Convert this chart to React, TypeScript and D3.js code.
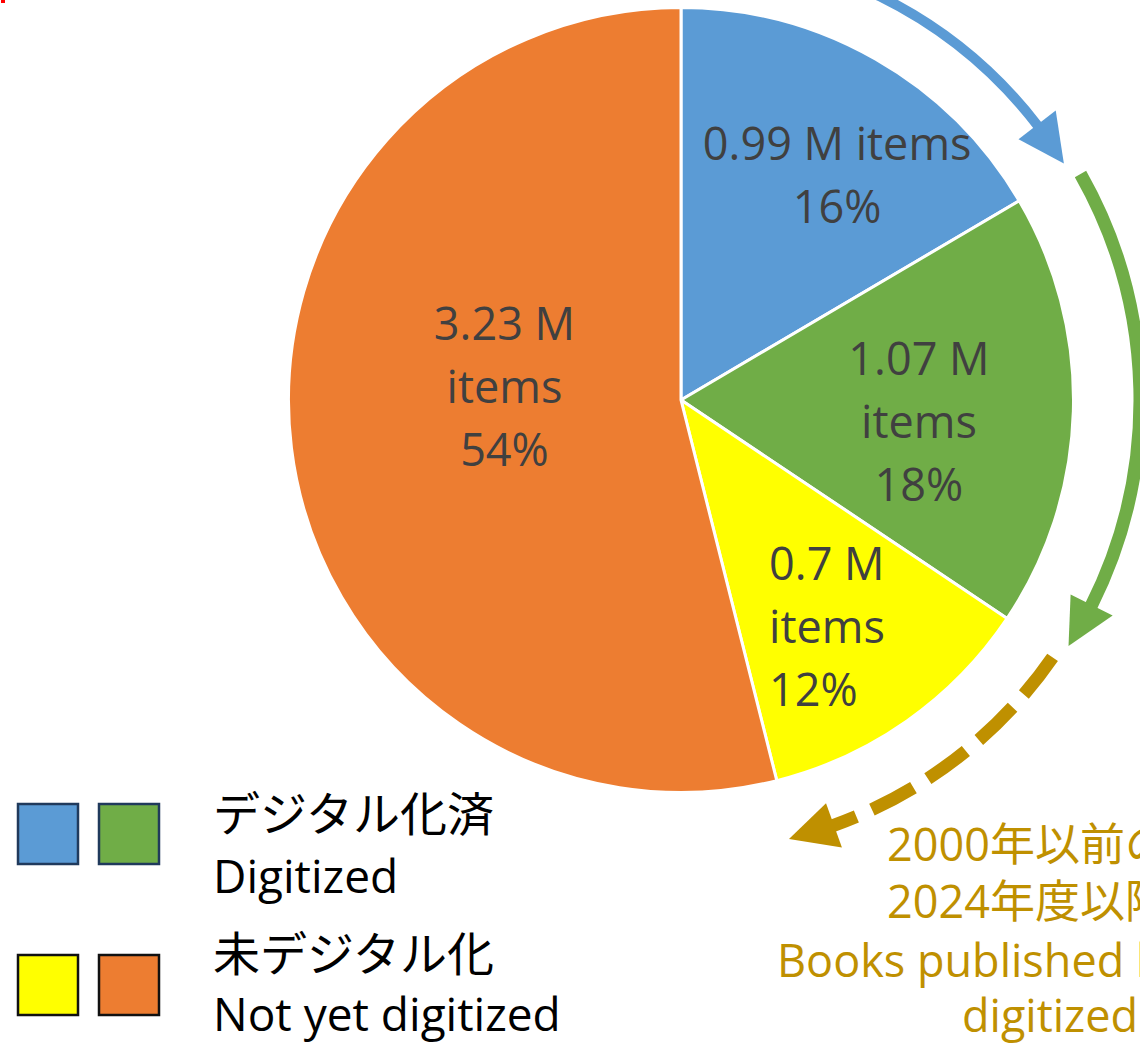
import React from "react";
import * as d3 from "d3";

// values in million items, clockwise from 12 o'clock
const categories = ["digitized-a", "digitized-b", "not-yet-a", "not-yet-b"];
const values = [0.99, 1.07, 0.7, 3.23];
const valueLabels = ["0.99 M items", "1.07 M items", "0.7 M items", "3.23 M items"];
const percentLabels = ["16%", "18%", "12%", "54%"];
const sliceColors = ["#5B9BD5", "#70AD47", "#FFFF00", "#ED7D31"];

const legendTitles = [
  ["デジタル化済", "Digitized"],
  ["未デジタル化", "Not yet digitized"],
];
const noteLines = [
  "2000年以前の図書",
  "2024年度以降デジタル化",
  "Books published before 2000",
  "digitized from FY2024",
];

const W = 1140;
const H = 1044;
const cx = 681;
const cy = 400;
const R = 392.5;
const FONT = "'Open Sans', 'Noto Sans CJK JP', sans-serif";
const FS = 45;

// label placement per slice: angle shift (deg) from mid-angle, radius
const labelLayout = [
  { dAngle: 5, r: 274, lines: 2, align: "middle", dx: 0 },
  { dAngle: 3.7, r: 239, lines: 3, align: "middle", dx: 0 },
  { dAngle: 2.4, r: 270, lines: 3, align: "start", dx: -58 },
  { dAngle: 11.2, r: 177, lines: 3, align: "middle", dx: 0 },
];

const deg = Math.PI / 180;
const polar = (r: number, a: number): [number, number] => [
  cx + r * Math.sin(a),
  cy - r * Math.cos(a),
];

function arrowParts(r: number, a0: number, aTip: number) {
  const L = 47;
  const hw = 23.5;
  const aBase = aTip - L / r;
  const p = d3.path();
  p.arc(cx, cy, r, a0 - Math.PI / 2, aBase + 1 / r - Math.PI / 2, false);
  const tip = polar(r, aTip);
  const w1 = polar(r + hw, aBase);
  const w2 = polar(r - hw, aBase);
  const head = `M${w1[0]},${w1[1]}L${tip[0]},${tip[1]}L${w2[0]},${w2[1]}Z`;
  return { shaft: p.toString(), head };
}

export default function App() {
  const arcs = d3
    .pie<number>()
    .sort(null)
    .value((d) => d)(values);
  const arcGen = d3.arc<d3.PieArcDatum<number>>().innerRadius(0).outerRadius(R);

  const blue = arrowParts(450, arcs[0].startAngle, arcs[0].endAngle - 1.2 * deg);
  const green = arrowParts(459, arcs[1].startAngle + 1 * deg, arcs[1].endAngle - 1.4 * deg);
  const gold = arrowParts(452, arcs[2].startAngle + 0.9 * deg, arcs[2].endAngle + 0.3 * deg);

  const lh = 63;

  return (
    <svg
      width={W}
      height={H}
      style={{ position: "absolute", left: 0, top: 0 }}
      fontFamily={FONT}
    >
      <rect x={1} y={0} width={4} height={3} fill="#FF0000" />

      <g transform={`translate(${cx},${cy})`}>
        {arcs.map((a, i) => (
          <path
            key={categories[i]}
            d={arcGen(a) || ""}
            fill={sliceColors[i]}
            stroke="#FFFFFF"
            strokeWidth={3}
            strokeLinejoin="round"
          />
        ))}
      </g>

      <g fill="#404040" fontSize={FS}>
        {arcs.map((a, i) => {
          const lay = labelLayout[i];
          const mid = (a.startAngle + a.endAngle) / 2 + lay.dAngle * deg;
          const [x, y] = polar(lay.r, mid);
          const parts = valueLabels[i].split(" ");
          const lines =
            lay.lines === 2
              ? [valueLabels[i], percentLabels[i]]
              : [parts.slice(0, 2).join(" "), parts[2], percentLabels[i]];
          const n = lines.length;
          return (
            <text key={categories[i]} textAnchor={lay.align as any}>
              {lines.map((t, j) => (
                <tspan key={j} x={x + lay.dx} y={y + (j - (n - 1) / 2) * lh + FS * 0.36}>
                  {t}
                </tspan>
              ))}
            </text>
          );
        })}
      </g>

      <g>
        <path d={blue.shaft} fill="none" stroke="#5B9BD5" strokeWidth={10} />
        <path d={blue.head} fill="#5B9BD5" />
        <path d={green.shaft} fill="none" stroke="#70AD47" strokeWidth={13} />
        <path d={green.head} fill="#70AD47" />
        <path
          d={gold.shaft}
          fill="none"
          stroke="#BF9000"
          strokeWidth={13}
          strokeDasharray="47 17"
        />
        <path d={gold.head} fill="#BF9000" />
      </g>

      <g>
        {legendTitles.map((pair, k) => (
          <g key={k}>
            {[0, 1].map((j) => (
              <rect
                key={j}
                x={18 + j * 81}
                y={804 + k * 151}
                width={60}
                height={60}
                fill={sliceColors[k * 2 + j]}
                stroke={k === 0 ? "#203A5C" : "#111111"}
                strokeWidth={2.5}
              />
            ))}
            <text fill="#000000">
              <tspan x={213} y={831 + k * 140} fontSize={47}>
                {pair[0]}
              </tspan>
              <tspan x={213} y={893 + k * 138} fontSize={46}>
                {pair[1]}
              </tspan>
            </text>
          </g>
        ))}
      </g>

      <g fill="#BF9000" fontSize={FS}>
        <text x={887} y={861}>{noteLines[0]}</text>
        <text x={887} y={918}>{noteLines[1]}</text>
        <text x={777} y={977}>{noteLines[2]}</text>
        <text x={962} y={1032}>{noteLines[3]}</text>
      </g>
    </svg>
  );
}
